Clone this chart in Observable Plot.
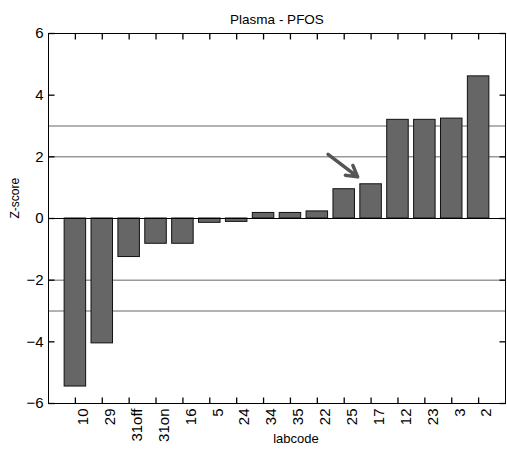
<!DOCTYPE html>
<html>
<head>
<meta charset="utf-8">
<script src="https://cdn.jsdelivr.net/npm/d3@7"></script>
<script src="https://cdn.jsdelivr.net/npm/@observablehq/plot@0.6"></script>
<style>
  html, body { margin: 0; padding: 0; background: #fff; }
  svg { display: block; }
</style>
</head>
<body>
<div id="chart"></div>
<script>
const labcodes = ["10", "29", "31off", "31on", "16", "5", "24", "34", "35", "22", "25", "17", "12", "23", "3", "2"];
const zscores = [-5.45, -4.05, -1.25, -0.82, -0.82, -0.14, -0.11, 0.18, 0.18, 0.23, 0.95, 1.11, 3.2, 3.2, 3.24, 4.61];
const limitLines = [-3, -2, 2, 3];
const yTicks = [-6, -4, -2, 0, 2, 4, 6];
const titleText = "Plasma - PFOS";
const xLabel = "labcode";
const yLabel = "Z-score";
// annotation arrow (x in bar-position units, y in Z-score units)
const arrowFrom = {x: 10.4, y: 2.08};
const arrowTo = {x: 11.5, y: 1.35};

const data = labcodes.map((code, i) => ({code, pos: i + 1, z: zscores[i]}));
const positions = data.map(d => d.pos);
const fmt = p => labcodes[p - 1];

const W = 507, H = 452, mL = 48, mR = 2, mT = 33, mB = 49;
const xMin = 0, xMax = labcodes.length + 1, yMin = -6, yMax = 6;
const font = "Liberation Sans, Arial, sans-serif";
// inward tick length: px converted to data units
const tickPx = 6;
const ty = tickPx * (yMax - yMin) / (H - mT - mB);
const tx = tickPx * (xMax - xMin) / (W - mL - mR);
const xTickSegs = positions.flatMap(p => [
  {x: p, y1: yMin, y2: yMin + ty},
  {x: p, y1: yMax, y2: yMax - ty}
]);
const yTickSegs = yTicks.flatMap(v => [
  {y: v, x1: xMin, x2: xMin + tx},
  {y: v, x1: xMax, x2: xMax - tx}
]);

const chart = Plot.plot({
  width: W,
  height: H,
  marginLeft: mL,
  marginRight: mR,
  marginTop: mT,
  marginBottom: mB,
  style: {fontFamily: font, fontSize: "14px", background: "#fff", color: "#000"},
  x: {domain: [xMin, xMax]},
  y: {domain: [yMin, yMax]},
  marks: [
    Plot.ruleY(limitLines, {stroke: "#666", strokeWidth: 1}),
    Plot.rectY(data, {x1: d => d.pos - 0.4, x2: d => d.pos + 0.4, y: "z", fill: "#666", stroke: "#111", strokeWidth: 1}),
    Plot.ruleY([0], {stroke: "#000", strokeWidth: 1}),
    Plot.arrow([{x1: arrowFrom.x, y1: arrowFrom.y, x2: arrowTo.x, y2: arrowTo.y}], {x1: "x1", y1: "y1", x2: "x2", y2: "y2", stroke: "#555", strokeWidth: 3.5, headLength: 8}),
    Plot.frame({stroke: "#000", strokeWidth: 1}),
    // inward ticks on all four sides
    Plot.link(xTickSegs, {x1: "x", x2: "x", y1: "y1", y2: "y2", stroke: "#000", strokeWidth: 1.3}),
    Plot.link(yTickSegs, {y1: "y", y2: "y", x1: "x1", x2: "x2", stroke: "#000", strokeWidth: 1.3}),
    // axis labels
    Plot.axisY({ticks: yTicks, tickSize: 0, tickPadding: 5, fontSize: 15, label: null, anchor: "left"}),
    Plot.axisX({ticks: positions, tickFormat: fmt, tickSize: 0, tickPadding: 5, tickRotate: -90, fontSize: 15, label: null, anchor: "bottom", dx: 8}),
    // titles
    Plot.text([titleText], {frameAnchor: "top", dy: -19, fontSize: 13.5, fill: "#000"}),
    Plot.text([xLabel], {frameAnchor: "bottom", dx: 19, dy: 39, fontSize: 13, fill: "#000"}),
    Plot.text([yLabel], {frameAnchor: "left", dx: -33, rotate: -90, fontSize: 12, fill: "#000"})
  ]
});
document.getElementById("chart").appendChild(chart);
</script>
</body>
</html>
